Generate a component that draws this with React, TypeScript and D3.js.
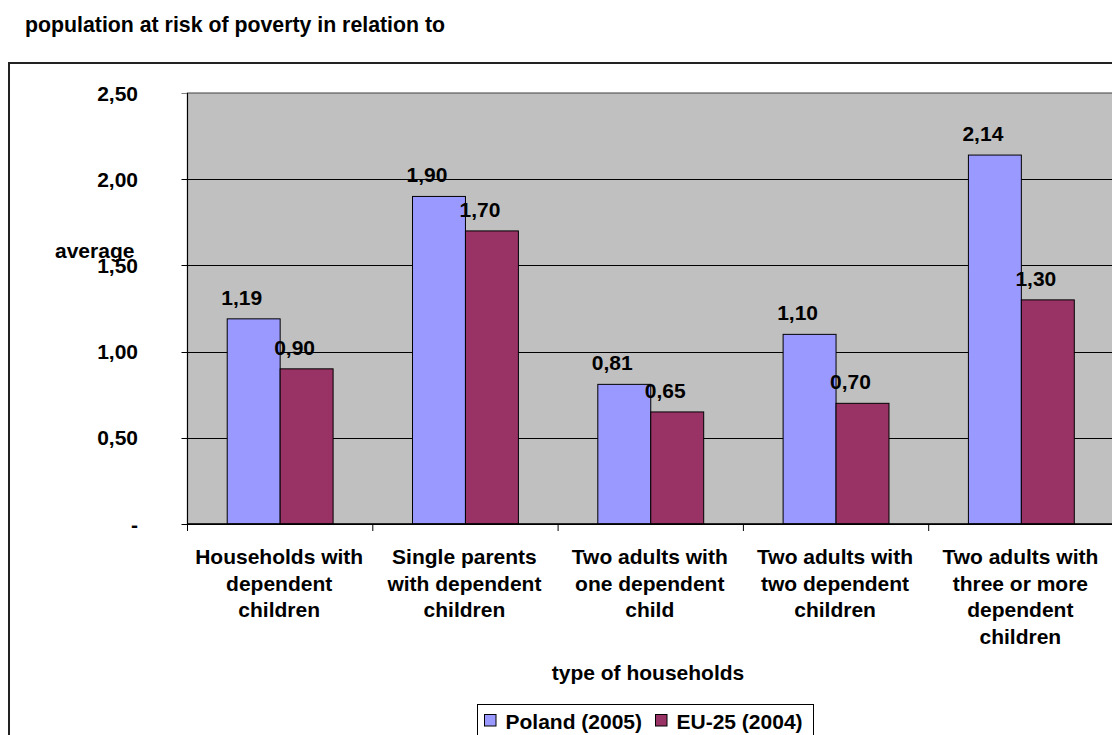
import React from "react";
import * as d3 from "d3";

const categories: string[][] = [
  ["Households with", "dependent", "children"],
  ["Single parents", "with dependent", "children"],
  ["Two adults with", "one dependent", "child"],
  ["Two adults with", "two dependent", "children"],
  ["Two adults with", "three or more", "dependent", "children"],
];
const seriesNames = ["Poland (2005)", "EU-25 (2004)"];
const polandValues = [1.19, 1.9, 0.81, 1.1, 2.14];
const euValues = [0.9, 1.7, 0.65, 0.7, 1.3];
const seriesColors = ["#9999FF", "#993366"];
const yTicks = [0, 0.5, 1, 1.5, 2, 2.5];
const titleText = "population at risk of poverty in relation to";
const xTitle = "type of households";
const yTitle = "average";

const W = 1112;
const H = 735;
const FONT = "'Liberation Sans', Arial, Helvetica, sans-serif";
const FS = 21;

const fmt = (v: number) => (v === 0 ? "-" : d3.format(".2f")(v).replace(".", ","));

export default function App() {
  const plotLeft = 187.5;
  const plotTop = 93;
  const plotBottom = 524;
  const catW = 185.3;
  const plotRight = plotLeft + catW * categories.length;

  const keys = categories.map((_, i) => String(i));
  const x = d3.scaleBand<string>().domain(keys).range([plotLeft, plotRight]).paddingInner(0).paddingOuter(0);
  const xs = d3
    .scaleBand<string>()
    .domain(seriesNames)
    .range([0, x.bandwidth()])
    .paddingInner(0)
    .paddingOuter(0.75);
  const y = d3.scaleLinear().domain([0, 2.5]).range([plotBottom, plotTop]);

  const data = [polandValues, euValues];

  return (
    <div style={{ position: "fixed", left: 0, top: 0, width: W, height: H, background: "#fff" }}>
      <svg width={W} height={H} style={{ display: "block" }} fontFamily={FONT}>
        <rect x={0} y={0} width={W} height={H} fill="#fff" />
        <text x={25} y={32} fontSize={21.3} fontWeight="bold" fill="#000">
          {titleText}
        </text>
        {/* outer chart border */}
        <rect x={9} y={63} width={W + 20} height={H + 20} fill="#fff" stroke="#222" strokeWidth={2} />
        {/* plot area */}
        <rect x={plotLeft} y={plotTop} width={plotRight - plotLeft} height={plotBottom - plotTop} fill="#C0C0C0" stroke="#808080" strokeWidth={1.5} />
        {/* gridlines */}
        {yTicks.map((t) => (
          <line
            key={"g" + t}
            x1={plotLeft - 6}
            x2={plotRight}
            y1={Math.round(y(t)) + 0.5}
            y2={Math.round(y(t)) + 0.5}
            stroke={t === 2.5 ? "#808080" : "#000"}
            strokeWidth={1}
          />
        ))}
        {/* y axis line */}
        <line x1={plotLeft} x2={plotLeft} y1={plotTop} y2={plotBottom} stroke="#000" strokeWidth={1} />
        {/* y tick labels */}
        {yTicks.map((t) => (
          <text
            key={"yl" + t}
            x={138}
            y={y(t) + 7.5}
            textAnchor="end"
            fontSize={FS}
            fontWeight="bold"
            fill="#000"
          >
            {fmt(t)}
          </text>
        ))}
        {/* bars */}
        {data.map((vals, si) =>
          vals.map((v, ci) => {
            const bx = (x(String(ci)) as number) + (xs(seriesNames[si]) as number);
            return (
              <rect
                key={"b" + si + "-" + ci}
                x={bx}
                y={y(v)}
                width={xs.bandwidth()}
                height={plotBottom - y(v)}
                fill={seriesColors[si]}
                stroke="#000"
                strokeWidth={1}
              />
            );
          })
        )}
        {/* x axis */}
        <line x1={plotLeft} x2={plotRight} y1={plotBottom} y2={plotBottom} stroke="#000" strokeWidth={1.5} />
        {keys.concat([String(categories.length)]).map((k, i) => {
          const tx = plotLeft + catW * i;
          return <line key={"xt" + i} x1={tx} x2={tx} y1={plotBottom} y2={plotBottom + 7} stroke="#000" strokeWidth={1} />;
        })}
        {/* data labels */}
        {data.map((vals, si) =>
          vals.map((v, ci) => {
            const bx = (x(String(ci)) as number) + (xs(seriesNames[si]) as number) + xs.bandwidth() / 2;
            return (
              <text
                key={"dl" + si + "-" + ci}
                x={bx - 12}
                y={y(v) - 14}
                textAnchor="middle"
                fontSize={FS}
                fontWeight="bold"
                fill="#000"
              >
                {fmt(v)}
              </text>
            );
          })
        )}
        {/* category labels */}
        {categories.map((lines, ci) => (
          <text
            key={"cl" + ci}
            textAnchor="middle"
            fontSize={FS}
            fontWeight="bold"
            fill="#000"
          >
            {lines.map((ln, li) => (
              <tspan key={li} x={(x(String(ci)) as number) + x.bandwidth() / 2 - 1} y={564 + li * 26.7}>
                {ln}
              </tspan>
            ))}
          </text>
        ))}
        {/* axis titles */}
        <text x={648} y={680} textAnchor="middle" fontSize={FS} fontWeight="bold" fill="#000">
          {xTitle}
        </text>
        <text x={55} y={258} fontSize={FS} fontWeight="bold" fill="#000">
          {yTitle}
        </text>
        {/* legend */}
        <rect x={477.5} y={704.5} width={336} height={60} fill="#fff" stroke="#000" strokeWidth={1} />
        {seriesNames.map((s, i) => {
          const lx = i === 0 ? 484.5 : 655.5;
          return (
            <g key={"lg" + i}>
              <rect x={lx} y={714.5} width={11.5} height={11.5} fill={seriesColors[i]} stroke="#000" strokeWidth={1} />
              <text x={lx + 21} y={729} fontSize={FS} fontWeight="bold" fill="#000">
                {s}
              </text>
            </g>
          );
        })}
      </svg>
    </div>
  );
}
